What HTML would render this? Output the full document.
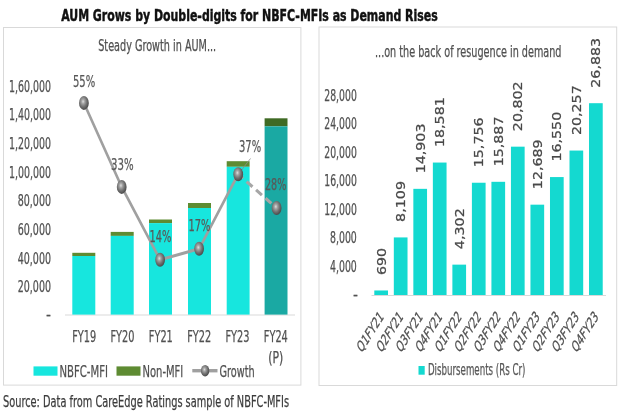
<!DOCTYPE html>
<html lang="en"><head><meta charset="utf-8"><title>AUM Grows by Double-digits for NBFC-MFIs as Demand Rises</title>
<style>html,body{margin:0;padding:0;background:#fff;overflow:hidden}svg{display:block}</style></head>
<body>
<svg width="620" height="413" viewBox="0 0 620 413">
<defs>
<radialGradient id="ball" cx="0.42" cy="0.4" r="0.6">
<stop offset="0" stop-color="#dedede"/><stop offset="0.28" stop-color="#a2a2a2"/><stop offset="0.62" stop-color="#737373"/><stop offset="1" stop-color="#4a4a4a"/>
</radialGradient>
</defs>
<rect width="620" height="413" fill="#fff"/>
<text x="61.2" y="20.8" font-size="15.9" text-anchor="start" fill="#111" stroke="#111" stroke-width="0.45" font-weight="bold" font-family='"DejaVu Sans Condensed","DejaVu Sans","Liberation Sans",sans-serif' textLength="376.5" lengthAdjust="spacingAndGlyphs">AUM Grows by Double-digits for NBFC-MFIs as Demand Rises</text>
<rect x="3.5" y="27.5" width="297.4" height="357.6" fill="#fff" stroke="#d9d9d9" stroke-width="1"/>
<rect x="319" y="27" width="297.7" height="358.5" fill="#fff" stroke="#d9d9d9" stroke-width="1"/>
<text x="98.2" y="51.1" font-size="15.6" text-anchor="start" fill="#505050" stroke="#505050" stroke-width="0.25" font-weight="normal" font-family='"DejaVu Sans Condensed","DejaVu Sans","Liberation Sans",sans-serif' textLength="118" lengthAdjust="spacingAndGlyphs">Steady Growth in AUM...</text>
<text x="51" y="91.69999999999999" font-size="15.3" text-anchor="end" fill="#505050" stroke="#505050" stroke-width="0.25" font-weight="normal" font-family='"DejaVu Sans Condensed","DejaVu Sans","Liberation Sans",sans-serif' textLength="42" lengthAdjust="spacingAndGlyphs">1,60,000</text>
<text x="51" y="120.35999999999999" font-size="15.3" text-anchor="end" fill="#505050" stroke="#505050" stroke-width="0.25" font-weight="normal" font-family='"DejaVu Sans Condensed","DejaVu Sans","Liberation Sans",sans-serif' textLength="42" lengthAdjust="spacingAndGlyphs">1,40,000</text>
<text x="51" y="149.01999999999998" font-size="15.3" text-anchor="end" fill="#505050" stroke="#505050" stroke-width="0.25" font-weight="normal" font-family='"DejaVu Sans Condensed","DejaVu Sans","Liberation Sans",sans-serif' textLength="42" lengthAdjust="spacingAndGlyphs">1,20,000</text>
<text x="51" y="177.67999999999998" font-size="15.3" text-anchor="end" fill="#505050" stroke="#505050" stroke-width="0.25" font-weight="normal" font-family='"DejaVu Sans Condensed","DejaVu Sans","Liberation Sans",sans-serif' textLength="42" lengthAdjust="spacingAndGlyphs">1,00,000</text>
<text x="51" y="206.34" font-size="15.3" text-anchor="end" fill="#505050" stroke="#505050" stroke-width="0.25" font-weight="normal" font-family='"DejaVu Sans Condensed","DejaVu Sans","Liberation Sans",sans-serif' textLength="33.3" lengthAdjust="spacingAndGlyphs">80,000</text>
<text x="51" y="235.0" font-size="15.3" text-anchor="end" fill="#505050" stroke="#505050" stroke-width="0.25" font-weight="normal" font-family='"DejaVu Sans Condensed","DejaVu Sans","Liberation Sans",sans-serif' textLength="33.3" lengthAdjust="spacingAndGlyphs">60,000</text>
<text x="51" y="263.66" font-size="15.3" text-anchor="end" fill="#505050" stroke="#505050" stroke-width="0.25" font-weight="normal" font-family='"DejaVu Sans Condensed","DejaVu Sans","Liberation Sans",sans-serif' textLength="33.3" lengthAdjust="spacingAndGlyphs">40,000</text>
<text x="51" y="292.32000000000005" font-size="15.3" text-anchor="end" fill="#505050" stroke="#505050" stroke-width="0.25" font-weight="normal" font-family='"DejaVu Sans Condensed","DejaVu Sans","Liberation Sans",sans-serif' textLength="33.3" lengthAdjust="spacingAndGlyphs">20,000</text>
<text x="51" y="319.6" font-size="15.3" text-anchor="end" fill="#505050" stroke="#505050" stroke-width="0.25" font-weight="normal" font-family='"DejaVu Sans Condensed","DejaVu Sans","Liberation Sans",sans-serif'>-</text>
<line x1="65" y1="315" x2="295" y2="315" stroke="#d9d9d9" stroke-width="1"/>
<rect x="72.3" y="252.8" width="23.0" height="3.2" fill="#5e8b32"/>
<rect x="72.3" y="256" width="23.0" height="58.6" fill="#17e6de"/>
<rect x="110.7" y="231.9" width="23.0" height="4.0" fill="#5e8b32"/>
<rect x="110.7" y="235.9" width="23.0" height="78.7" fill="#17e6de"/>
<rect x="149" y="219.5" width="23.0" height="3.6" fill="#5e8b32"/>
<rect x="149" y="223.1" width="23.0" height="91.5" fill="#17e6de"/>
<rect x="188" y="203" width="23.0" height="5.0" fill="#5e8b32"/>
<rect x="188" y="208" width="23.0" height="106.6" fill="#17e6de"/>
<rect x="226.7" y="161.2" width="22.9" height="5.6" fill="#5e8b32"/>
<rect x="226.7" y="166.8" width="22.9" height="147.8" fill="#17e6de"/>
<rect x="264.6" y="118.3" width="22.9" height="8.0" fill="#3f6a24"/>
<rect x="264.6" y="126.3" width="22.9" height="188.3" fill="#1aa9a3"/>
<path transform="scale(1,1.25)" d="M83.9,82.32 L121.7,149.52 L160.1,207.84 L199.1,199.04 L238.2,139.36" fill="none" stroke="#a0a0a0" stroke-width="2.5" stroke-linejoin="round"/>
<line x1="238.2" y1="174.2" x2="276.6" y2="208.0" stroke="#a6a6a6" stroke-width="3.1" stroke-dasharray="7.8 4.8" stroke-dashoffset="-11.2"/>
<line x1="250.5" y1="158.5" x2="240" y2="172" stroke="#8c8c8c" stroke-width="0.8"/>
<ellipse cx="83.9" cy="102.9" rx="4.9" ry="7" fill="url(#ball)"/>
<ellipse cx="121.7" cy="186.9" rx="4.9" ry="7" fill="url(#ball)"/>
<ellipse cx="160.1" cy="259.8" rx="4.9" ry="7" fill="url(#ball)"/>
<ellipse cx="199.1" cy="248.8" rx="4.9" ry="7" fill="url(#ball)"/>
<ellipse cx="238.2" cy="174.2" rx="4.9" ry="7" fill="url(#ball)"/>
<ellipse cx="276.6" cy="208.0" rx="4.9" ry="7" fill="url(#ball)"/>
<text x="73" y="87.4" font-size="15.3" text-anchor="start" fill="#585858" stroke="#585858" stroke-width="0.25" font-weight="normal" font-family='"DejaVu Sans Condensed","DejaVu Sans","Liberation Sans",sans-serif' textLength="22.2" lengthAdjust="spacingAndGlyphs">55%</text>
<text x="111" y="169.8" font-size="15.3" text-anchor="start" fill="#585858" stroke="#585858" stroke-width="0.25" font-weight="normal" font-family='"DejaVu Sans Condensed","DejaVu Sans","Liberation Sans",sans-serif' textLength="22.5" lengthAdjust="spacingAndGlyphs">33%</text>
<text x="149.4" y="242.0" font-size="15.3" text-anchor="start" fill="#585858" stroke="#585858" stroke-width="0.25" font-weight="normal" font-family='"DejaVu Sans Condensed","DejaVu Sans","Liberation Sans",sans-serif' textLength="21.9" lengthAdjust="spacingAndGlyphs">14%</text>
<text x="188.5" y="230.6" font-size="15.3" text-anchor="start" fill="#585858" stroke="#585858" stroke-width="0.25" font-weight="normal" font-family='"DejaVu Sans Condensed","DejaVu Sans","Liberation Sans",sans-serif' textLength="21.9" lengthAdjust="spacingAndGlyphs">17%</text>
<text x="239" y="152" font-size="15.3" text-anchor="start" fill="#585858" stroke="#585858" stroke-width="0.25" font-weight="normal" font-family='"DejaVu Sans Condensed","DejaVu Sans","Liberation Sans",sans-serif' textLength="22.1" lengthAdjust="spacingAndGlyphs">37%</text>
<text x="265" y="190" font-size="15.3" text-anchor="start" fill="#585858" stroke="#585858" stroke-width="0.25" font-weight="normal" font-family='"DejaVu Sans Condensed","DejaVu Sans","Liberation Sans",sans-serif' textLength="21.4" lengthAdjust="spacingAndGlyphs">28%</text>
<text x="84.16499999999999" y="342.1" font-size="15.5" text-anchor="middle" fill="#505050" stroke="#505050" stroke-width="0.25" font-weight="normal" font-family='"DejaVu Sans Condensed","DejaVu Sans","Liberation Sans",sans-serif' textLength="24" lengthAdjust="spacingAndGlyphs">FY19</text>
<text x="122.495" y="342.1" font-size="15.5" text-anchor="middle" fill="#505050" stroke="#505050" stroke-width="0.25" font-weight="normal" font-family='"DejaVu Sans Condensed","DejaVu Sans","Liberation Sans",sans-serif' textLength="24" lengthAdjust="spacingAndGlyphs">FY20</text>
<text x="160.825" y="342.1" font-size="15.5" text-anchor="middle" fill="#505050" stroke="#505050" stroke-width="0.25" font-weight="normal" font-family='"DejaVu Sans Condensed","DejaVu Sans","Liberation Sans",sans-serif' textLength="24" lengthAdjust="spacingAndGlyphs">FY21</text>
<text x="199.155" y="342.1" font-size="15.5" text-anchor="middle" fill="#505050" stroke="#505050" stroke-width="0.25" font-weight="normal" font-family='"DejaVu Sans Condensed","DejaVu Sans","Liberation Sans",sans-serif' textLength="24" lengthAdjust="spacingAndGlyphs">FY22</text>
<text x="237.48499999999999" y="342.1" font-size="15.5" text-anchor="middle" fill="#505050" stroke="#505050" stroke-width="0.25" font-weight="normal" font-family='"DejaVu Sans Condensed","DejaVu Sans","Liberation Sans",sans-serif' textLength="24" lengthAdjust="spacingAndGlyphs">FY23</text>
<text x="275.815" y="342.1" font-size="15.5" text-anchor="middle" fill="#505050" stroke="#505050" stroke-width="0.25" font-weight="normal" font-family='"DejaVu Sans Condensed","DejaVu Sans","Liberation Sans",sans-serif' textLength="24" lengthAdjust="spacingAndGlyphs">FY24</text>
<text x="275.8" y="362.6" font-size="15.5" text-anchor="middle" fill="#505050" stroke="#505050" stroke-width="0.25" font-weight="normal" font-family='"DejaVu Sans Condensed","DejaVu Sans","Liberation Sans",sans-serif' textLength="15" lengthAdjust="spacingAndGlyphs">(P)</text>
<rect x="33.5" y="366.4" width="24" height="9.3" fill="#17e6de"/>
<text x="59.5" y="377" font-size="16.6" text-anchor="start" fill="#505050" stroke="#505050" stroke-width="0.25" font-weight="normal" font-family='"DejaVu Sans Condensed","DejaVu Sans","Liberation Sans",sans-serif' textLength="48.5" lengthAdjust="spacingAndGlyphs">NBFC-MFI</text>
<rect x="116.5" y="366.4" width="24" height="9.3" fill="#5e8b32"/>
<text x="142.5" y="377" font-size="16.6" text-anchor="start" fill="#505050" stroke="#505050" stroke-width="0.25" font-weight="normal" font-family='"DejaVu Sans Condensed","DejaVu Sans","Liberation Sans",sans-serif' textLength="40.8" lengthAdjust="spacingAndGlyphs">Non-MFI</text>
<line x1="192.3" y1="370.7" x2="217.5" y2="370.7" stroke="#a0a0a0" stroke-width="3.4"/>
<ellipse cx="205.1" cy="370.7" rx="4.2" ry="5.8" fill="url(#ball)"/>
<text x="219.5" y="377" font-size="16.6" text-anchor="start" fill="#505050" stroke="#505050" stroke-width="0.25" font-weight="normal" font-family='"DejaVu Sans Condensed","DejaVu Sans","Liberation Sans",sans-serif' textLength="35.2" lengthAdjust="spacingAndGlyphs">Growth</text>
<text x="3" y="407.1" font-size="15.5" text-anchor="start" fill="#3c3c3c" stroke="#3c3c3c" stroke-width="0.25" font-weight="normal" font-family='"DejaVu Sans Condensed","DejaVu Sans","Liberation Sans",sans-serif' textLength="286" lengthAdjust="spacingAndGlyphs">Source: Data from CareEdge Ratings sample of NBFC-MFIs</text>
<text x="375" y="56.7" font-size="15.6" text-anchor="start" fill="#505050" stroke="#505050" stroke-width="0.25" font-weight="normal" font-family='"DejaVu Sans Condensed","DejaVu Sans","Liberation Sans",sans-serif' textLength="186.5" lengthAdjust="spacingAndGlyphs">...on the back of resugence in demand</text>
<text x="356.8" y="101.0" font-size="15.3" text-anchor="end" fill="#505050" stroke="#505050" stroke-width="0.25" font-weight="normal" font-family='"DejaVu Sans Condensed","DejaVu Sans","Liberation Sans",sans-serif' textLength="32.5" lengthAdjust="spacingAndGlyphs">28,000</text>
<text x="356.8" y="129.45" font-size="15.3" text-anchor="end" fill="#505050" stroke="#505050" stroke-width="0.25" font-weight="normal" font-family='"DejaVu Sans Condensed","DejaVu Sans","Liberation Sans",sans-serif' textLength="32.5" lengthAdjust="spacingAndGlyphs">24,000</text>
<text x="356.8" y="157.9" font-size="15.3" text-anchor="end" fill="#505050" stroke="#505050" stroke-width="0.25" font-weight="normal" font-family='"DejaVu Sans Condensed","DejaVu Sans","Liberation Sans",sans-serif' textLength="32.5" lengthAdjust="spacingAndGlyphs">20,000</text>
<text x="356.8" y="186.35" font-size="15.3" text-anchor="end" fill="#505050" stroke="#505050" stroke-width="0.25" font-weight="normal" font-family='"DejaVu Sans Condensed","DejaVu Sans","Liberation Sans",sans-serif' textLength="32.5" lengthAdjust="spacingAndGlyphs">16,000</text>
<text x="356.8" y="214.8" font-size="15.3" text-anchor="end" fill="#505050" stroke="#505050" stroke-width="0.25" font-weight="normal" font-family='"DejaVu Sans Condensed","DejaVu Sans","Liberation Sans",sans-serif' textLength="32.5" lengthAdjust="spacingAndGlyphs">12,000</text>
<text x="356.8" y="243.25" font-size="15.3" text-anchor="end" fill="#505050" stroke="#505050" stroke-width="0.25" font-weight="normal" font-family='"DejaVu Sans Condensed","DejaVu Sans","Liberation Sans",sans-serif' textLength="26.8" lengthAdjust="spacingAndGlyphs">8,000</text>
<text x="356.8" y="271.7" font-size="15.3" text-anchor="end" fill="#505050" stroke="#505050" stroke-width="0.25" font-weight="normal" font-family='"DejaVu Sans Condensed","DejaVu Sans","Liberation Sans",sans-serif' textLength="26.8" lengthAdjust="spacingAndGlyphs">4,000</text>
<text x="358" y="299.8" font-size="15.3" text-anchor="end" fill="#505050" stroke="#505050" stroke-width="0.25" font-weight="normal" font-family='"DejaVu Sans Condensed","DejaVu Sans","Liberation Sans",sans-serif'>-</text>
<line x1="371.5" y1="295.5" x2="606" y2="295.5" stroke="#d9d9d9" stroke-width="1"/>
<rect x="374.30" y="290.47" width="13.7" height="4.53" fill="#14d9d0"/>
<g transform="translate(385.60,274.97) rotate(-90)">
<text x="0" y="0" font-size="12.2" text-anchor="start" fill="#484848" stroke="#484848" stroke-width="0.25" font-weight="normal" font-family='"DejaVu Sans","Liberation Sans",sans-serif' textLength="27.0" lengthAdjust="spacingAndGlyphs">690</text>
</g>
<g transform="translate(384.15,317.5) scale(1,1.1) rotate(-55.5) skewX(-18)">
<text x="0" y="0" font-size="11.9" text-anchor="end" fill="#505050" stroke="#505050" stroke-width="0.25" font-weight="normal" font-family='"DejaVu Sans Condensed","DejaVu Sans","Liberation Sans",sans-serif' textLength="39.8" lengthAdjust="spacingAndGlyphs">Q1FY21</text>
</g>
<rect x="393.82" y="237.42" width="13.7" height="57.58" fill="#14d9d0"/>
<g transform="translate(405.12,221.92) rotate(-90)">
<text x="0" y="0" font-size="12.2" text-anchor="start" fill="#484848" stroke="#484848" stroke-width="0.25" font-weight="normal" font-family='"DejaVu Sans","Liberation Sans",sans-serif' textLength="40.9" lengthAdjust="spacingAndGlyphs">8,109</text>
</g>
<g transform="translate(403.67,317.5) scale(1,1.1) rotate(-55.5) skewX(-18)">
<text x="0" y="0" font-size="11.9" text-anchor="end" fill="#505050" stroke="#505050" stroke-width="0.25" font-weight="normal" font-family='"DejaVu Sans Condensed","DejaVu Sans","Liberation Sans",sans-serif' textLength="39.8" lengthAdjust="spacingAndGlyphs">Q2FY21</text>
</g>
<rect x="413.34" y="188.84" width="13.7" height="106.16" fill="#14d9d0"/>
<g transform="translate(424.64,173.34) rotate(-90)">
<text x="0" y="0" font-size="12.2" text-anchor="start" fill="#484848" stroke="#484848" stroke-width="0.25" font-weight="normal" font-family='"DejaVu Sans","Liberation Sans",sans-serif' textLength="49.8" lengthAdjust="spacingAndGlyphs">14,903</text>
</g>
<g transform="translate(423.19,317.5) scale(1,1.1) rotate(-55.5) skewX(-18)">
<text x="0" y="0" font-size="11.9" text-anchor="end" fill="#505050" stroke="#505050" stroke-width="0.25" font-weight="normal" font-family='"DejaVu Sans Condensed","DejaVu Sans","Liberation Sans",sans-serif' textLength="39.8" lengthAdjust="spacingAndGlyphs">Q3FY21</text>
</g>
<rect x="432.86" y="162.55" width="13.7" height="132.45" fill="#14d9d0"/>
<g transform="translate(444.16,147.05) rotate(-90)">
<text x="0" y="0" font-size="12.2" text-anchor="start" fill="#484848" stroke="#484848" stroke-width="0.25" font-weight="normal" font-family='"DejaVu Sans","Liberation Sans",sans-serif' textLength="49.8" lengthAdjust="spacingAndGlyphs">18,581</text>
</g>
<g transform="translate(442.71,317.5) scale(1,1.1) rotate(-55.5) skewX(-18)">
<text x="0" y="0" font-size="11.9" text-anchor="end" fill="#505050" stroke="#505050" stroke-width="0.25" font-weight="normal" font-family='"DejaVu Sans Condensed","DejaVu Sans","Liberation Sans",sans-serif' textLength="39.8" lengthAdjust="spacingAndGlyphs">Q4FY21</text>
</g>
<rect x="452.38" y="264.64" width="13.7" height="30.36" fill="#14d9d0"/>
<g transform="translate(463.68,249.14) rotate(-90)">
<text x="0" y="0" font-size="12.2" text-anchor="start" fill="#484848" stroke="#484848" stroke-width="0.25" font-weight="normal" font-family='"DejaVu Sans","Liberation Sans",sans-serif' textLength="40.9" lengthAdjust="spacingAndGlyphs">4,302</text>
</g>
<g transform="translate(462.23,317.5) scale(1,1.1) rotate(-55.5) skewX(-18)">
<text x="0" y="0" font-size="11.9" text-anchor="end" fill="#505050" stroke="#505050" stroke-width="0.25" font-weight="normal" font-family='"DejaVu Sans Condensed","DejaVu Sans","Liberation Sans",sans-serif' textLength="39.8" lengthAdjust="spacingAndGlyphs">Q1FY22</text>
</g>
<rect x="471.90" y="182.74" width="13.7" height="112.26" fill="#14d9d0"/>
<g transform="translate(483.20,167.24) rotate(-90)">
<text x="0" y="0" font-size="12.2" text-anchor="start" fill="#484848" stroke="#484848" stroke-width="0.25" font-weight="normal" font-family='"DejaVu Sans","Liberation Sans",sans-serif' textLength="49.8" lengthAdjust="spacingAndGlyphs">15,756</text>
</g>
<g transform="translate(481.75,317.5) scale(1,1.1) rotate(-55.5) skewX(-18)">
<text x="0" y="0" font-size="11.9" text-anchor="end" fill="#505050" stroke="#505050" stroke-width="0.25" font-weight="normal" font-family='"DejaVu Sans Condensed","DejaVu Sans","Liberation Sans",sans-serif' textLength="39.8" lengthAdjust="spacingAndGlyphs">Q2FY22</text>
</g>
<rect x="491.42" y="181.81" width="13.7" height="113.19" fill="#14d9d0"/>
<g transform="translate(502.72,166.31) rotate(-90)">
<text x="0" y="0" font-size="12.2" text-anchor="start" fill="#484848" stroke="#484848" stroke-width="0.25" font-weight="normal" font-family='"DejaVu Sans","Liberation Sans",sans-serif' textLength="49.8" lengthAdjust="spacingAndGlyphs">15,887</text>
</g>
<g transform="translate(501.27,317.5) scale(1,1.1) rotate(-55.5) skewX(-18)">
<text x="0" y="0" font-size="11.9" text-anchor="end" fill="#505050" stroke="#505050" stroke-width="0.25" font-weight="normal" font-family='"DejaVu Sans Condensed","DejaVu Sans","Liberation Sans",sans-serif' textLength="39.8" lengthAdjust="spacingAndGlyphs">Q3FY22</text>
</g>
<rect x="510.94" y="146.67" width="13.7" height="148.33" fill="#14d9d0"/>
<g transform="translate(522.24,131.17) rotate(-90)">
<text x="0" y="0" font-size="12.2" text-anchor="start" fill="#484848" stroke="#484848" stroke-width="0.25" font-weight="normal" font-family='"DejaVu Sans","Liberation Sans",sans-serif' textLength="49.8" lengthAdjust="spacingAndGlyphs">20,802</text>
</g>
<g transform="translate(520.79,317.5) scale(1,1.1) rotate(-55.5) skewX(-18)">
<text x="0" y="0" font-size="11.9" text-anchor="end" fill="#505050" stroke="#505050" stroke-width="0.25" font-weight="normal" font-family='"DejaVu Sans Condensed","DejaVu Sans","Liberation Sans",sans-serif' textLength="39.8" lengthAdjust="spacingAndGlyphs">Q4FY22</text>
</g>
<rect x="530.46" y="204.67" width="13.7" height="90.33" fill="#14d9d0"/>
<g transform="translate(541.76,189.17) rotate(-90)">
<text x="0" y="0" font-size="12.2" text-anchor="start" fill="#484848" stroke="#484848" stroke-width="0.25" font-weight="normal" font-family='"DejaVu Sans","Liberation Sans",sans-serif' textLength="49.8" lengthAdjust="spacingAndGlyphs">12,689</text>
</g>
<g transform="translate(540.31,317.5) scale(1,1.1) rotate(-55.5) skewX(-18)">
<text x="0" y="0" font-size="11.9" text-anchor="end" fill="#505050" stroke="#505050" stroke-width="0.25" font-weight="normal" font-family='"DejaVu Sans Condensed","DejaVu Sans","Liberation Sans",sans-serif' textLength="39.8" lengthAdjust="spacingAndGlyphs">Q1FY23</text>
</g>
<rect x="549.98" y="177.07" width="13.7" height="117.93" fill="#14d9d0"/>
<g transform="translate(561.28,161.57) rotate(-90)">
<text x="0" y="0" font-size="12.2" text-anchor="start" fill="#484848" stroke="#484848" stroke-width="0.25" font-weight="normal" font-family='"DejaVu Sans","Liberation Sans",sans-serif' textLength="49.8" lengthAdjust="spacingAndGlyphs">16,550</text>
</g>
<g transform="translate(559.83,317.5) scale(1,1.1) rotate(-55.5) skewX(-18)">
<text x="0" y="0" font-size="11.9" text-anchor="end" fill="#505050" stroke="#505050" stroke-width="0.25" font-weight="normal" font-family='"DejaVu Sans Condensed","DejaVu Sans","Liberation Sans",sans-serif' textLength="39.8" lengthAdjust="spacingAndGlyphs">Q2FY23</text>
</g>
<rect x="569.50" y="150.56" width="13.7" height="144.44" fill="#14d9d0"/>
<g transform="translate(580.80,135.06) rotate(-90)">
<text x="0" y="0" font-size="12.2" text-anchor="start" fill="#484848" stroke="#484848" stroke-width="0.25" font-weight="normal" font-family='"DejaVu Sans","Liberation Sans",sans-serif' textLength="49.8" lengthAdjust="spacingAndGlyphs">20,257</text>
</g>
<g transform="translate(579.35,317.5) scale(1,1.1) rotate(-55.5) skewX(-18)">
<text x="0" y="0" font-size="11.9" text-anchor="end" fill="#505050" stroke="#505050" stroke-width="0.25" font-weight="normal" font-family='"DejaVu Sans Condensed","DejaVu Sans","Liberation Sans",sans-serif' textLength="39.8" lengthAdjust="spacingAndGlyphs">Q3FY23</text>
</g>
<rect x="589.02" y="103.19" width="13.7" height="191.81" fill="#14d9d0"/>
<g transform="translate(600.32,87.69) rotate(-90)">
<text x="0" y="0" font-size="12.2" text-anchor="start" fill="#484848" stroke="#484848" stroke-width="0.25" font-weight="normal" font-family='"DejaVu Sans","Liberation Sans",sans-serif' textLength="49.8" lengthAdjust="spacingAndGlyphs">26,883</text>
</g>
<g transform="translate(598.87,317.5) scale(1,1.1) rotate(-55.5) skewX(-18)">
<text x="0" y="0" font-size="11.9" text-anchor="end" fill="#505050" stroke="#505050" stroke-width="0.25" font-weight="normal" font-family='"DejaVu Sans Condensed","DejaVu Sans","Liberation Sans",sans-serif' textLength="39.8" lengthAdjust="spacingAndGlyphs">Q4FY23</text>
</g>
<rect x="418.5" y="366" width="6.2" height="8.7" fill="#14d9d0"/>
<text x="427.9" y="375.1" font-size="15.0" text-anchor="start" fill="#585858" stroke="#585858" stroke-width="0.25" font-weight="normal" font-family='"DejaVu Sans Condensed","DejaVu Sans","Liberation Sans",sans-serif' textLength="97.6" lengthAdjust="spacingAndGlyphs">Disbursements (Rs Cr)</text>
</svg>
</body></html>
